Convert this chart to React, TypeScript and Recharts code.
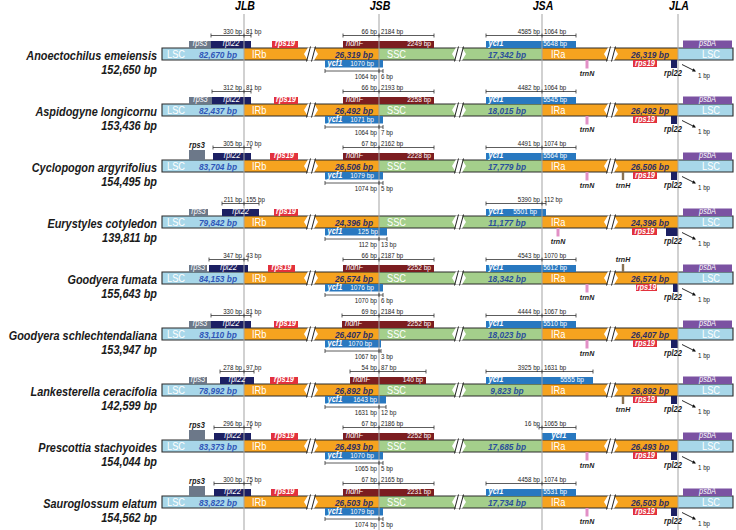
import { ComposedChart, XAxis, YAxis, ReferenceArea, ReferenceLine, Scatter } from 'recharts';

// ---- values (bp) ----
const SPECIES = [
  'Anoectochilus emeiensis', 'Aspidogyne longicornu', 'Cyclopogon argyrifolius',
  'Eurystyles cotyledon', 'Goodyera fumata', 'Goodyera schlechtendaliana',
  'Lankesterella ceracifolia', 'Prescottia stachyoides', 'Sauroglossum elatum',
];
const GENOME_BP = [152650, 153436, 154495, 139811, 155643, 153947, 142599, 154044, 154562];
const LSC_BP = [82670, 82437, 83704, 79842, 84153, 83110, 78992, 83373, 83822];
const IR_BP = [26319, 26492, 26506, 24396, 26574, 26407, 26892, 26493, 26503];
const SSC_BP = [17342, 18015, 17779, 11177, 18342, 18023, 9823, 17685, 17734];

const RPL22_IN_LSC = [330, 312, 305, 211, 347, 330, 278, 296, 300];
const RPL22_IN_IRB = [81, 81, 70, 155, 43, 81, 97, 76, 75];
const NDHF_IN_IRB = [66, 66, 67, null, 66, 69, 54, 67, 67];
const NDHF_IN_SSC = [2184, 2193, 2162, null, 2187, 2184, 87, 2186, 2165];
const NDHF_LEN = [2249, 2258, 2228, null, 2252, 2252, 140, 2252, 2231];
const YCF1_FRAG_LEN = [1070, 1071, 1079, 125, 1076, 1070, 1643, 1070, 1079];
const YCF1_FRAG_IRB = [1064, 1064, 1074, 112, 1070, 1067, 1631, 1065, 1074];
const YCF1_FRAG_SSC = [6, 7, 5, 13, 6, 3, 12, 5, 5];
const YCF1_IN_SSC = [4585, 4482, 4491, 5390, 4543, 4444, 3925, 16, 4458];
const YCF1_IN_IRA = [1064, 1064, 1074, 112, 1070, 1067, 1631, 1065, 1074];
const YCF1_LEN = [5648, 5545, 5564, 5501, 5612, 5510, 5555, null, 5531];
const RPL22_GAP_JLA = 1;

// ---- schematic layout (diagram units) ----
const W = 736;
const H = 530;
const JUNCTIONS = [
  { name: 'JLB', x: 244 },
  { name: 'JSB', x: 379 },
  { name: 'JSA', x: 542 },
  { name: 'JLA', x: 678 },
];
const [JLB, JSB, JSA, JLA] = JUNCTIONS.map((j) => j.x);
const BAR_X0 = 162;
const BAR_X1 = 733;
const BREAKS = [311, 459, 611];
const ROW_TOP = 48;
const ROW_STEP = 56;
const BAR_H = 12;

const RPS3_BOX = [[189, 211], [189, 212], [189, 205], [189, 208], [189, 207], [189, 211], [189, 207], [189, 205], [189, 205]];
const RPS3_LABEL_ABOVE = [false, false, true, false, false, false, false, true, true];
const RPL22_BOX = [[211, 251], [212, 251], [213, 251], [222, 259], [209, 248], [211, 251], [220, 254], [214, 251], [214, 251]];
const RPS19_B_BOX = [[272, 298], [274, 298], [270, 298], [274, 298], [268, 295], [274, 298], [270, 298], [271, 298], [271, 298]];
const NDHF_BOX = [[343, 434], [343, 434], [343, 434], null, [343, 434], [342, 434], [350, 426], [343, 434], [343, 434]];
const YCF1_B_BOX = [[325, 383], [325, 383], [325, 383], [325, 387], [325, 383], [325, 381], [325, 386], [325, 383], [325, 383]];
const YCF1_A_BOX = [[486, 576], [486, 576], [486, 576], [486, 546], [486, 576], [486, 576], [486, 593], [542, 576], [486, 576]];
const YCF1_A_BRACKET_START = [486, 486, 486, 486, 486, 486, 486, 539, 486];
const TRNN_X = [587, 587, 587, 558, 587, 587, null, 587, 587];
const TRNH_SIDE = [null, null, 'below', null, 'above', null, 'below', null, null];
const TRNH_X = 623;
const RPS19_A_BOX = [[633, 657], [633, 657], [633, 657], [632, 657], [636, 657], [633, 657], [633, 657], [633, 657], [633, 657]];
const RPL22_A_BOX = [[671, 677], [671, 677], [671, 677], [666, 678], [673, 678], [671, 678], [671, 677], [671, 677], [671, 677]];
const PSBA_BOX = [683, 732];

const C = {
  lsc: '#a8d7e9', ir: '#f6a31f', ssc: '#a4cf8b',
  rps3: '#6c7889', rpl22: '#1c2063', rps19: '#e2313d', ndhF: '#7b1d20',
  ycf1: '#2878c0', psbA: '#7b52a2', trnN: '#e290c6', trnH: '#8a7252',
  lscText: '#2f56b8', irText: '#2e2f64', sscText: '#2a4f9c',
  junc: '#a3a3a3', ink: '#1a1a1a', outline: '#2b2b2b',
};
const FONT = "'Liberation Sans', Arial, Helvetica, sans-serif";
const SQUEEZE = 0.88;

type Txt = { x: number; y: number; text: string; size: number; bold?: boolean; italic?: boolean; color: string; anchor: 'start' | 'middle' | 'end' };
type Box = { x1: number; x2: number; y1: number; y2: number; fill: string; stroke?: string };
type Seg = { x1: number; y1: number; x2: number; y2: number; color: string; w: number };

const fmt = (n: number) => n.toLocaleString('en-US');

const texts: Txt[] = [];
const barBoxes: Box[] = [];
const geneBoxes: Box[] = [];
const segs: Seg[] = [];
const breakMarks: { x: number; top: number }[] = [];
const arrows: { x1: number; x2: number; y1: number; y2: number }[] = [];

const label = (x: number, y: number, text: string, size: number, color: string, anchor: Txt['anchor'], bold = false, italic = false) =>
  texts.push({ x, y, text, size, color, anchor, bold, italic });

function bracket(xa: number, xc: number, xb: number, y: number, left: string, right: string, below: boolean) {
  segs.push({ x1: xa, y1: y, x2: xb, y2: y, color: '#333', w: 0.8 });
  [xa, xc, xb].forEach((x) => segs.push({ x1: x, y1: y - 2, x2: x, y2: y + 2, color: '#333', w: 0.8 }));
  const ty = below ? y + 8 : y - 1.2;
  label(xc - 2, ty, left, 7, C.ink, 'end');
  label(xc + 2, ty, right, 7, C.ink, 'start');
}

JUNCTIONS.forEach((j) => label(j.x + 1, 10, j.name, 12, '#000', 'middle', true, true));

SPECIES.forEach((name, i) => {
  const T = ROW_TOP + ROW_STEP * i;
  const B = T + BAR_H;
  const mid = T + 9.5;

  // left labels
  label(157, T + 11.5, name, 12.4, C.ink, 'end', true, true);
  label(157, T + 25.5, `${fmt(GENOME_BP[i])} bp`, 12.4, C.ink, 'end', true, true);

  // genome regions
  barBoxes.push({ x1: BAR_X0, x2: JLB, y1: T, y2: B, fill: C.lsc });
  barBoxes.push({ x1: JLB, x2: JSB, y1: T, y2: B, fill: C.ir });
  barBoxes.push({ x1: JSB, x2: JSA, y1: T, y2: B, fill: C.ssc });
  barBoxes.push({ x1: JSA, x2: JLA, y1: T, y2: B, fill: C.ir });
  barBoxes.push({ x1: JLA, x2: BAR_X1, y1: T, y2: B, fill: C.lsc });
  barBoxes.push({ x1: BAR_X0, x2: BAR_X1, y1: T, y2: B, fill: 'none', stroke: C.outline });
  BREAKS.forEach((x) => breakMarks.push({ x, top: T }));

  label(167, mid, 'LSC', 10.5, '#fff', 'start');
  label(218, mid, `${fmt(LSC_BP[i])} bp`, 9.5, C.lscText, 'middle', true, true);
  label(252, mid, 'IRb', 10.5, '#fff', 'start');
  label(354, mid, `${fmt(IR_BP[i])} bp`, 9.5, C.irText, 'middle', true, true);
  label(387, mid, 'SSC', 10.5, '#fff', 'start');
  label(507, mid, `${fmt(SSC_BP[i])} bp`, 9.5, C.sscText, 'middle', true, true);
  label(551, mid, 'IRa', 10.5, '#fff', 'start');
  label(650, mid, `${fmt(IR_BP[i])} bp`, 9.5, C.irText, 'middle', true, true);
  label(711, mid, 'LSC', 10.5, '#fff', 'middle');

  const upY = T - 12.5;
  const inTop = T - 1.6;
  const inBot = B + 6.4;

  // rps3
  const [r3a, r3b] = RPS3_BOX[i];
  if (RPS3_LABEL_ABOVE[i]) {
    geneBoxes.push({ x1: r3a, x2: r3b, y1: T - 10, y2: T, fill: C.rps3 });
    label((r3a + r3b) / 2, T - 12, 'rps3', 8.5, C.ink, 'middle', true, true);
  } else {
    geneBoxes.push({ x1: r3a, x2: r3b, y1: T - 7, y2: T, fill: C.rps3 });
    label((r3a + r3b) / 2, inTop, 'rps3', 8.5, '#fff', 'middle', false, true);
  }

  // rpl22 across JLB
  const [p1, p2] = RPL22_BOX[i];
  geneBoxes.push({ x1: p1, x2: p2, y1: T - 7, y2: T, fill: C.rpl22 });
  label((p1 + p2) / 2, inTop, 'rpl22', 8.5, '#fff', 'middle', false, true);
  bracket(p1, JLB, p2, upY, `${RPL22_IN_LSC[i]} bp`, `${RPL22_IN_IRB[i]} bp`, false);

  // rps19 in IRb
  const [s1, s2] = RPS19_B_BOX[i];
  geneBoxes.push({ x1: s1, x2: s2, y1: T - 7, y2: T, fill: C.rps19 });
  label((s1 + s2) / 2, inTop, 'rps19', 8.5, '#fff', 'middle', true, true);

  // ndhF across JSB
  const nb = NDHF_BOX[i];
  if (nb) {
    geneBoxes.push({ x1: nb[0], x2: nb[1], y1: T - 7, y2: T, fill: C.ndhF });
    label(nb[0] + 3, inTop, 'ndhF', 8.5, '#fff', 'start', false, true);
    label(nb[1] - 3, inTop, `${NDHF_LEN[i]} bp`, 7.5, '#fff', 'end');
    bracket(nb[0], JSB, nb[1], upY, `${NDHF_IN_IRB[i]} bp`, `${NDHF_IN_SSC[i]} bp`, false);
  }

  // ycf1 fragment across JSB (below)
  const [y1a, y1b] = YCF1_B_BOX[i];
  geneBoxes.push({ x1: y1a, x2: y1b, y1: B, y2: B + 7.5, fill: C.ycf1 });
  label(y1a + 2.5, inBot, 'ycf1', 8.5, '#fff', 'start', true, true);
  label(y1b - 9, inBot, `${YCF1_FRAG_LEN[i]} bp`, 7.5, '#fff', 'end');
  bracket(y1a, JSB, y1b, B + 11, `${YCF1_FRAG_IRB[i]} bp`, `${YCF1_FRAG_SSC[i]} bp`, true);

  // ycf1 across JSA (above)
  const [y2a, y2b] = YCF1_A_BOX[i];
  geneBoxes.push({ x1: y2a, x2: y2b, y1: T - 7, y2: T, fill: C.ycf1 });
  const len = YCF1_LEN[i];
  if (len) {
    label(y2a + 2.5, inTop, 'ycf1', 8.5, '#fff', 'start', true, true);
    label(y2b - 9, inTop, `${len} bp`, 7.5, '#fff', 'end');
  } else {
    label((y2a + y2b) / 2, inTop, 'ycf1', 8.5, '#fff', 'middle', true, true);
  }
  bracket(YCF1_A_BRACKET_START[i], JSA, y2b, upY, `${YCF1_IN_SSC[i]} bp`, `${YCF1_IN_IRA[i]} bp`, false);

  // trnN / trnH
  const tn = TRNN_X[i];
  if (tn) {
    geneBoxes.push({ x1: tn - 1.5, x2: tn + 1.5, y1: B, y2: B + 8.5, fill: C.trnN });
    label(tn, T + 28, 'trnN', 8, C.ink, 'middle', true, true);
  }
  if (TRNH_SIDE[i] === 'below') {
    geneBoxes.push({ x1: TRNH_X - 1.2, x2: TRNH_X + 1.2, y1: B, y2: B + 8, fill: C.trnH });
    label(TRNH_X, T + 28, 'trnH', 8, C.ink, 'middle', true, true);
  } else if (TRNH_SIDE[i] === 'above') {
    geneBoxes.push({ x1: TRNH_X - 1.2, x2: TRNH_X + 1.2, y1: T - 8, y2: T, fill: C.trnH });
    label(TRNH_X, T - 10.5, 'trnH', 8, C.ink, 'middle', true, true);
  }

  // rps19 in IRa (below)
  const [q1, q2] = RPS19_A_BOX[i];
  geneBoxes.push({ x1: q1, x2: q2, y1: B, y2: B + 7, fill: C.rps19 });
  label((q1 + q2) / 2, B + 6, 'rps19', 8.5, '#fff', 'middle', true, true);

  // rpl22 near JLA
  const [l1, l2] = RPL22_A_BOX[i];
  geneBoxes.push({ x1: l1, x2: l2, y1: B, y2: B + 8, fill: C.rpl22 });
  label(673, T + 28, 'rpl22', 8.5, C.ink, 'middle', true, true);
  arrows.push({ x1: 682, x2: 696, y1: B + 4.5, y2: B + 11.5 });
  label(698, T + 30, `${RPL22_GAP_JLA} bp`, 7, C.ink, 'start');

  // psbA
  geneBoxes.push({ x1: PSBA_BOX[0], x2: PSBA_BOX[1], y1: T - 7.5, y2: T, fill: C.psbA });
  label((PSBA_BOX[0] + PSBA_BOX[1]) / 2, inTop, 'psbA', 8.5, '#fff', 'middle', false, true);
});

function TextMark(props: any) {
  const { cx, cy, payload } = props;
  if (cx == null || cy == null || !payload) return null;
  return (
    <text
      transform={`translate(${cx},${cy}) scale(${SQUEEZE},1)`}
      textAnchor={payload.anchor}
      fontFamily={FONT}
      fontSize={payload.size}
      fontWeight={payload.bold ? 700 : 400}
      fontStyle={payload.italic ? 'italic' : 'normal'}
      fill={payload.color}
    >
      {payload.text}
    </text>
  );
}

function BreakShape(props: any) {
  const { x, y, width, height } = props;
  const cx = x + width / 2;
  const top = y + 1;
  const bot = y + height - 1;
  const m = (top + bot) / 2;
  const pts = [[cx - 7, m], [cx - 3, top], [cx + 3, top], [cx + 7, m], [cx + 3, bot], [cx - 3, bot]]
    .map((p) => p.join(',')).join(' ');
  return (
    <g>
      <polygon points={pts} fill="#fff" />
      <line x1={cx - 4.5} y1={y + height} x2={cx - 0.5} y2={y} stroke="#222" strokeWidth={1} />
      <line x1={cx + 0.5} y1={y + height} x2={cx + 4.5} y2={y} stroke="#222" strokeWidth={1} />
    </g>
  );
}

function ArrowShape(props: any) {
  const { x, y, width, height } = props;
  const x2 = x + width;
  const y2 = y + height;
  const ang = Math.atan2(height, width);
  const a = 4;
  const h1 = [x2 - a * Math.cos(ang - 0.45), y2 - a * Math.sin(ang - 0.45)];
  const h2 = [x2 - a * Math.cos(ang + 0.45), y2 - a * Math.sin(ang + 0.45)];
  return (
    <g>
      <line x1={x} y1={y} x2={x2 - 1} y2={y2 - 0.5} stroke="#111" strokeWidth={0.9} />
      <polygon points={`${x2},${y2} ${h1.join(',')} ${h2.join(',')}`} fill="#111" />
    </g>
  );
}

export default function App() {
  return (
    <div style={{ position: 'fixed', left: 0, top: 0, background: '#fff' }}>
      <ComposedChart width={W} height={H} margin={{ top: 0, right: 0, bottom: 0, left: 0 }}>
        <XAxis type="number" dataKey="x" domain={[0, W]} allowDataOverflow hide />
        <YAxis type="number" dataKey="y" domain={[0, H]} allowDataOverflow reversed hide />

        {barBoxes.map((b, k) => (
          <ReferenceArea
            key={`bar-${k}`}
            x1={b.x1} x2={b.x2} y1={b.y1} y2={b.y2}
            fill={b.fill} fillOpacity={1}
            stroke={b.stroke ?? 'none'} strokeWidth={1.1}
            ifOverflow="visible"
          />
        ))}
        {breakMarks.map((b, k) => (
          <ReferenceArea
            key={`brk-${k}`}
            x1={b.x - 7} x2={b.x + 7} y1={b.top - 1.5} y2={b.top + BAR_H + 1.5}
            ifOverflow="visible"
            shape={(p: any) => <BreakShape {...p} />}
          />
        ))}
        {geneBoxes.map((b, k) => (
          <ReferenceArea
            key={`gene-${k}`}
            x1={b.x1} x2={b.x2} y1={b.y1} y2={b.y2}
            fill={b.fill} fillOpacity={1} stroke="none"
            ifOverflow="visible"
          />
        ))}
        {arrows.map((a, k) => (
          <ReferenceArea
            key={`arr-${k}`}
            x1={a.x1} x2={a.x2} y1={a.y1} y2={a.y2}
            ifOverflow="visible"
            shape={(p: any) => <ArrowShape {...p} />}
          />
        ))}

        {JUNCTIONS.map((j) => (
          <ReferenceLine
            key={`j-${j.name}`}
            segment={[{ x: j.x, y: 14 }, { x: j.x, y: H }]}
            stroke={C.junc} strokeWidth={1}
            ifOverflow="visible"
          />
        ))}
        {segs.map((s, k) => (
          <ReferenceLine
            key={`seg-${k}`}
            segment={[{ x: s.x1, y: s.y1 }, { x: s.x2, y: s.y2 }]}
            stroke={s.color} strokeWidth={s.w}
            ifOverflow="visible"
          />
        ))}

        <Scatter data={texts} shape={(p: any) => <TextMark {...p} />} isAnimationActive={false} />
      </ComposedChart>
    </div>
  );
}
